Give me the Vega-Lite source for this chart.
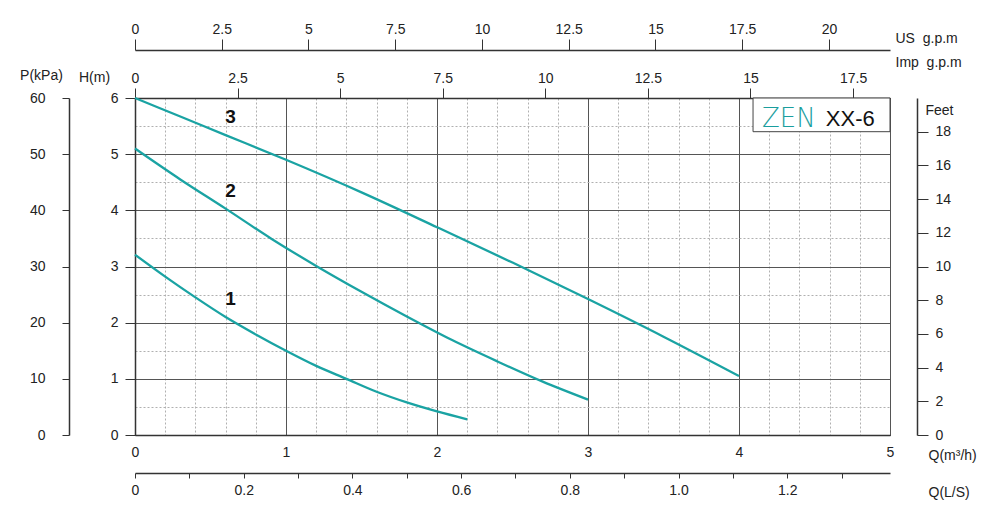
{
  "$schema": "https://vega.github.io/schema/vega-lite/v6.json",
  "autosize": "none",
  "width": 755,
  "height": 337,
  "padding": {"left": 135, "top": 98, "right": 110, "bottom": 94},
  "background": "white",
  "config": {
    "view": {"stroke": "#444", "strokeWidth": 1},
    "font": "Liberation Sans",
    "axis": {
      "labelFont": "Liberation Sans", "labelFontSize": 14, "labelColor": "#222",
      "titleFont": "Liberation Sans", "titleFontSize": 14, "titleFontWeight": "normal", "titleColor": "#222",
      "tickColor": "#333", "domainColor": "#333", "labelOverlap": false, "labelFlush": false, "grid": false
    }
  },
  "data": {"values": [
    {"curve": "3", "Q": 0, "H": 6.0}, {"curve": "3", "Q": 0.3, "H": 5.67}, {"curve": "3", "Q": 0.6, "H": 5.34},
    {"curve": "3", "Q": 1.0, "H": 4.9}, {"curve": "3", "Q": 1.5, "H": 4.32}, {"curve": "3", "Q": 2.0, "H": 3.7},
    {"curve": "3", "Q": 2.5, "H": 3.07}, {"curve": "3", "Q": 3.0, "H": 2.42}, {"curve": "3", "Q": 3.5, "H": 1.75},
    {"curve": "3", "Q": 4.0, "H": 1.05},
    {"curve": "2", "Q": 0, "H": 5.1}, {"curve": "2", "Q": 0.3, "H": 4.55}, {"curve": "2", "Q": 0.6, "H": 4.03},
    {"curve": "2", "Q": 0.9, "H": 3.5}, {"curve": "2", "Q": 1.2, "H": 3.01}, {"curve": "2", "Q": 1.5, "H": 2.55},
    {"curve": "2", "Q": 1.8, "H": 2.11}, {"curve": "2", "Q": 2.1, "H": 1.69}, {"curve": "2", "Q": 2.4, "H": 1.31},
    {"curve": "2", "Q": 2.7, "H": 0.95}, {"curve": "2", "Q": 3.0, "H": 0.63},
    {"curve": "1", "Q": 0, "H": 3.21}, {"curve": "1", "Q": 0.2, "H": 2.82}, {"curve": "1", "Q": 0.4, "H": 2.45},
    {"curve": "1", "Q": 0.6, "H": 2.1}, {"curve": "1", "Q": 0.8, "H": 1.79}, {"curve": "1", "Q": 1.0, "H": 1.5},
    {"curve": "1", "Q": 1.2, "H": 1.23}, {"curve": "1", "Q": 1.4, "H": 1.0}, {"curve": "1", "Q": 1.6, "H": 0.77},
    {"curve": "1", "Q": 1.8, "H": 0.58}, {"curve": "1", "Q": 2.0, "H": 0.42}, {"curve": "1", "Q": 2.2, "H": 0.28}
  ]},
  "layer": [
    {
      "data": {"values": [{}]},
      "mark": {"type": "point", "opacity": 0},
      "encoding": {
        "x": {"datum": 0, "type": "quantitative", "scale": {"domain": [0, 5], "nice": false, "zero": false},
          "axis": {"orient": "bottom", "values": [0.2,0.4,0.6,0.8,1.2,1.4,1.6,1.8,2.2,2.4,2.6,2.8,3.2,3.4,3.6,3.8,4.2,4.4,4.6,4.8],
            "grid": true, "gridDash": [2, 2], "gridColor": "#b0b0b0", "gridWidth": 1, "labels": false, "ticks": false, "domain": false, "title": null}},
        "y": {"datum": 0, "type": "quantitative", "scale": {"domain": [0, 6], "nice": false, "zero": false},
          "axis": {"orient": "left", "values": [0.5,1.5,2.5,3.5,4.5,5.5],
            "grid": true, "gridDash": [2, 2], "gridColor": "#b0b0b0", "gridWidth": 1, "labels": false, "ticks": false, "domain": false, "title": null}}
      }
    },
    {
      "mark": {"type": "line", "strokeWidth": 2.3, "interpolate": "monotone", "color": "#1aa3a3"},
      "encoding": {
        "x": {"field": "Q", "type": "quantitative", "scale": {"domain": [0, 5], "nice": false, "zero": false},
          "axis": {"orient": "bottom", "values": [0,1,2,3,4,5], "format": "d", "grid": true, "gridColor": "#555", "gridWidth": 1,
            "ticks": false, "labelPadding": 10, "domain": true, "domainWidth": 1.5,
            "title": "Q(m³/h)", "titleX": 793, "titleY": 20, "titleAlign": "left", "titleBaseline": "middle", "titleAngle": 0}},
        "y": {"field": "H", "type": "quantitative", "scale": {"domain": [0, 6], "nice": false, "zero": false},
          "axis": {"orient": "left", "values": [0,1,2,3,4,5,6], "format": "d", "grid": true, "gridColor": "#555", "gridWidth": 1,
            "tickSize": 10, "labelPadding": 7, "domain": true, "domainWidth": 1.5,
            "title": "H(m)", "titleX": -41, "titleY": -21, "titleAngle": 0, "titleAlign": "center", "titleBaseline": "middle"}},
        "detail": {"field": "curve"}
      }
    },
    {
      "transform": [{"filter": "datum.Q == 0.6"}],
      "mark": {"type": "text", "fontSize": 19, "fontWeight": "bold", "color": "#111", "dx": 5, "dy": -18, "font": "Liberation Sans"},
      "encoding": {
        "x": {"field": "Q", "type": "quantitative", "scale": {"domain": [0, 5], "nice": false, "zero": false}, "axis": null},
        "y": {"field": "H", "type": "quantitative", "scale": {"domain": [0, 6], "nice": false, "zero": false}, "axis": null},
        "text": {"field": "curve"}
      }
    },
    {
      "data": {"values": [{"brand": "ZEN", "model": "XX-6"}]},
      "layer": [
        {
          "mark": {"type": "rect", "fill": "white", "stroke": "#444", "strokeWidth": 1},
          "encoding": {
            "x": {"datum": 4.093, "type": "quantitative", "scale": {"domain": [0, 5], "nice": false, "zero": false}, "axis": null},
            "x2": {"datum": 5},
            "y": {"datum": 5.4, "type": "quantitative", "scale": {"domain": [0, 6], "nice": false, "zero": false}, "axis": null},
            "y2": {"datum": 6}
          }
        },
        {
          "mark": {"type": "text", "fontSize": 26, "color": "#1a9e9e", "align": "center", "baseline": "middle", "font": "DejaVu Sans", "fontWeight": 300},
          "encoding": {
            "x": {"datum": 4.33, "type": "quantitative"},
            "y": {"datum": 5.63, "type": "quantitative"},
            "text": {"field": "brand"}
          }
        },
        {
          "mark": {"type": "text", "fontSize": 22, "color": "#111", "align": "left", "baseline": "middle", "font": "Liberation Sans"},
          "encoding": {
            "x": {"datum": 4.575, "type": "quantitative"},
            "y": {"datum": 5.63, "type": "quantitative"},
            "text": {"field": "model"}
          }
        }
      ]
    },
    {
      "data": {"values": [{}]},
      "mark": {"type": "point", "opacity": 0},
      "encoding": {
        "x": {"datum": 0, "type": "quantitative", "scale": {"domain": [0, 21.76], "nice": false, "zero": false},
          "axis": {"orient": "top", "offset": 48, "values": [0,2.5,5,7.5,10,12.5,15,17.5,20], "labelExpr": "'' + datum.value",
            "tickSize": 11, "labelPadding": 3, "domain": true, "domainWidth": 1.5,
            "title": "US\u00a0\u00a0g.p.m", "titleX": 760, "titleY": -12, "titleAlign": "left", "titleBaseline": "middle", "titleAngle": 0}}
      }
    },
    {
      "data": {"values": [{}]},
      "mark": {"type": "point", "opacity": 0},
      "encoding": {
        "x": {"datum": 0, "type": "quantitative", "scale": {"domain": [0, 18.4], "nice": false, "zero": false},
          "axis": {"orient": "top", "offset": 0, "values": [0,2.5,5,7.5,10,12.5,15,17.5], "labelExpr": "'' + datum.value",
            "tickSize": 10, "labelPadding": 3, "domain": true, "domainWidth": 1.5,
            "title": "Imp\u00a0\u00a0g.p.m", "titleX": 760, "titleY": -36, "titleAlign": "left", "titleBaseline": "middle", "titleAngle": 0}}
      }
    },
    {
      "data": {"values": [{}]},
      "mark": {"type": "point", "opacity": 0},
      "encoding": {
        "x": {"datum": 0, "type": "quantitative", "scale": {"domain": [0, 1.389], "nice": false, "zero": false},
          "axis": {"orient": "bottom", "offset": 38, "values": [0,0.1,0.2,0.3,0.4,0.5,0.6,0.7,0.8,0.9,1.0,1.1,1.2,1.3],
            "labelExpr": "round(datum.value*10) % 2 == 0 ? (datum.value == 0 ? '0' : format(datum.value, '.1f')) : ''",
            "tickSize": 5, "labelPadding": 5, "domain": true, "domainWidth": 1.5,
            "title": "Q(L/S)", "titleX": 793, "titleY": 19, "titleAlign": "left", "titleBaseline": "middle", "titleAngle": 0}}
      }
    },
    {
      "data": {"values": [{}]},
      "mark": {"type": "point", "opacity": 0},
      "encoding": {
        "y": {"datum": 0, "type": "quantitative", "scale": {"domain": [0, 60], "nice": false, "zero": false},
          "axis": {"orient": "left", "offset": 66, "values": [0,10,20,30,40,50,60], "format": "d",
            "tickSize": 7, "labelPadding": 17, "domain": true, "domainWidth": 1.5,
            "title": "P(kPa)", "titleX": -28, "titleY": -23, "titleAngle": 0, "titleAlign": "center", "titleBaseline": "middle"}}
      }
    },
    {
      "data": {"values": [{}]},
      "mark": {"type": "point", "opacity": 0},
      "encoding": {
        "y": {"datum": 0, "type": "quantitative", "scale": {"domain": [0, 20], "nice": false, "zero": false},
          "axis": {"orient": "right", "offset": 27, "values": [0,2,4,6,8,10,12,14,16,18], "format": "d",
            "tickSize": 11, "labelPadding": 7, "domain": true, "domainWidth": 1.5,
            "title": "Feet", "titleX": 8, "titleY": 12, "titleAngle": 0, "titleAlign": "left", "titleBaseline": "middle"}}
      }
    }
  ],
  "resolve": {"scale": {"x": "independent", "y": "independent"}}
}
